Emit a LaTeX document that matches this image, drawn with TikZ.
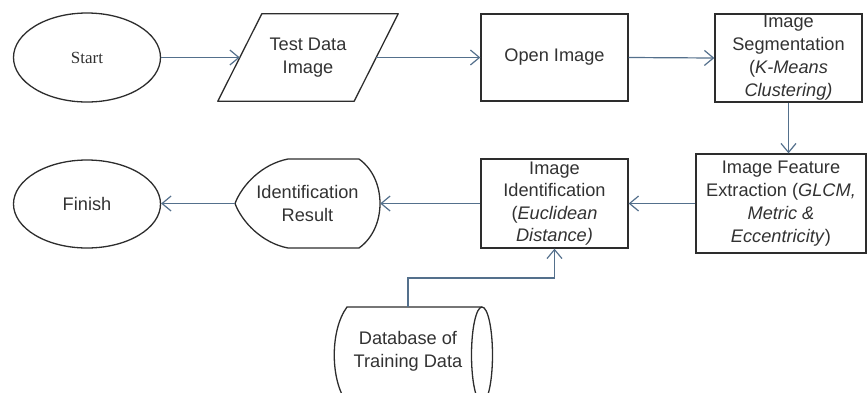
\documentclass[tikz,border=0pt]{standalone}
\usepackage{fontspec}
\setmainfont{Liberation Sans}
\newfontfamily\serifstart{Liberation Serif}
\usetikzlibrary{arrows.meta,shapes.geometric,calc}
\definecolor{arrcol}{RGB}{84,112,140}
\definecolor{linecol}{RGB}{45,45,45}
\definecolor{txtcol}{RGB}{50,50,50}
\tikzset{
  box/.style={draw=linecol,line width=1.3pt,rectangle,inner sep=0pt,align=center,text=txtcol,font=\fontsize{18.2}{23}\selectfont},
  plain/.style={rectangle,inner sep=0pt,align=center,text=txtcol,font=\fontsize{18.2}{23}\selectfont},
  oval/.style={draw=linecol,line width=1.3pt,ellipse,inner sep=0pt,align=center,text=txtcol},
  outline/.style={draw=linecol,line width=1.3pt,line join=round},
  arr/.style={draw=arrcol,line width=1.2pt,-{Straight Barb[length=9pt,width=15pt,line width=1.2pt]}},
}
\begin{document}
\begin{tikzpicture}[x=1pt,y=-1pt]
\useasboundingbox (0,0) rectangle (868,392);
\clip (0,0) rectangle (868,392);
% nodes
\node[oval,minimum width=147,minimum height=89,font=\serifstart\fontsize{17}{20}\selectfont] (start) at (87,57.5) {Start};
\node[plain,minimum width=136,minimum height=87] (test) at (308,57.5) {Test Data\\Image};
\node[box,minimum width=147,minimum height=87] (open) at (554.5,57.5) {Open Image};
\node[box,minimum width=147,minimum height=88] (seg) at (788.5,58) {Image\\Segmentation\\(\textit{K-Means}\\\textit{Clustering)}};
\node[box,minimum width=170,minimum height=99] (feat) at (781,203.5) {Image Feature\\Extraction (\textit{GLCM,}\\\textit{Metric \&}\\\textit{Eccentricity})};
\node[box,minimum width=147,minimum height=89,font=\fontsize{18.2}{22.3}\selectfont] (ident) at (554.5,203.5) {Image\\Identification\\(\textit{Euclidean}\\\textit{Distance)}};
\node[plain,minimum width=145,minimum height=89] (result) at (307.5,203.5) {Identification\\Result};
\node[oval,minimum width=147,minimum height=88,font=\fontsize{18.2}{22}\selectfont] (finish) at (87,204) {Finish};
\node[plain,minimum width=100,minimum height=88] (db) at (408,351) {Database of\\Training Data};
\coordinate (bend) at (408,278);
% shape outlines
\draw[outline] ($(test.north west)+(22,0)$) -- ($(test.north east)+(22,0)$) -- ($(test.south east)+(-22,0)$) -- ($(test.south west)+(-22,0)$) -- cycle;
\draw[outline] (288,159) -- (359,159) .. controls (373,169) and (380,186) .. (380,203.5)
  .. controls (380,221) and (373,238) .. (359,248) -- (288,248)
  .. controls (262,243) and (242,222) .. (235,203.5)
  .. controls (242,185) and (262,164) .. (288,159) -- cycle;
\draw[outline] (347,403) .. controls (330,380) and (330,330) .. (347,307) -- (482,307);
\draw[outline] (482,355) ellipse [x radius=10.5, y radius=48];
% connectors
\draw[arr] (start.east) -- (test.west);
\draw[arr] (test.east) -- (open.west);
\draw[arr] (open.east) -- (seg.west);
\draw[arr] (seg.south) -- (seg.south |- feat.north);
\draw[arr] (feat.west) -- (feat.west -| ident.east);
\draw[arr] (ident.west) -- (result.east);
\draw[arr] (result.west) -- (result.west -| finish.east);
\draw[arr] (db.north) -- (bend) -| (ident.south);
\end{tikzpicture}
\end{document}
